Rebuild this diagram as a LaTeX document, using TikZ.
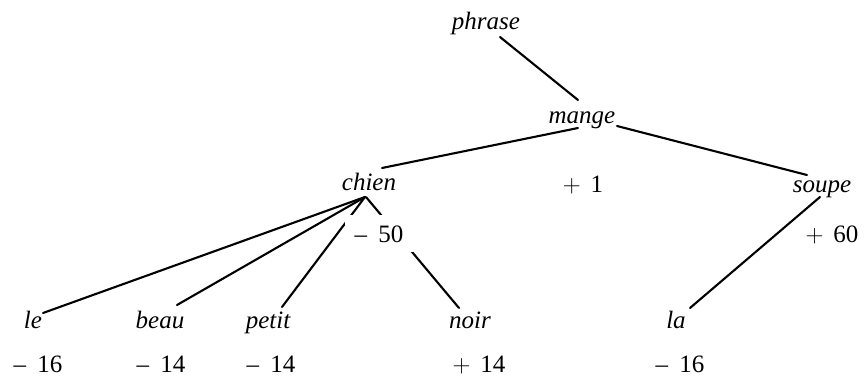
\documentclass[tikz,border=0pt]{standalone}
\usepackage{fontspec}
\setmainfont{Liberation Serif}
\begin{document}
\begin{tikzpicture}[x=1pt,y=-1pt,
  word/.style={anchor=base,inner sep=0pt,font=\fontsize{25}{29}\selectfont\itshape},
  score/.style={anchor=base,inner sep=0pt,font=\fontsize{25}{29}\selectfont},
  edge/.style={line width=2.1pt,line cap=round}]
\useasboundingbox (0,0) rectangle (868,383);

% words of the dependency tree
\node[word] (phrase) at (486,29)  {phrase};
\node[word] (mange)  at (582,123) {mange};
\node[word] (chien)  at (369,190) {chien};
\node[word] (soupe)  at (822,192) {soupe};
\node[word] (le)     at (33,328)  {le};
\node[word] (beau)   at (160,328) {beau};
\node[word] (petit)  at (268,328) {petit};
\node[word] (noir)   at (470,328) {noir};
\node[word] (la)     at (676,328) {la};

% branches
\draw[edge] ([xshift=14pt,yshift=-8pt]phrase.base) -- ([xshift=-4pt,yshift=23pt]mange.base);
\draw[edge] ([xshift=-4pt,yshift=-5pt]mange.base) -- ([xshift=13pt,yshift=22pt]chien.base);
\draw[edge] ([xshift=35pt,yshift=-3pt]mange.base) -- ([xshift=-15pt,yshift=17pt]soupe.base);
\draw[edge] ([xshift=-4pt,yshift=-7pt]chien.base) -- ([xshift=10pt,yshift=15pt]le.base);
\draw[edge] ([xshift=-4pt,yshift=-7pt]chien.base) -- ([xshift=17pt,yshift=23pt]beau.base);
\draw[edge] ([xshift=-4pt,yshift=-7pt]chien.base) -- ([xshift=14pt,yshift=21pt]petit.base);
\draw[edge] ([xshift=-3pt,yshift=-7pt]chien.base) -- ([xshift=-11pt,yshift=20pt]noir.base);
\draw[edge] ([xshift=-2pt,yshift=-5pt]soupe.base) -- ([xshift=14pt,yshift=20pt]la.base);

% scores
\node[score] (s1)   at (583,192) {$+$\hspace{0.4em}1};
\node[score,fill=white,inner sep=10pt] (s50) at (379,242) {–\hspace{0.45em}50};
\node[score] (s60)  at (832,242) {$+$\hspace{0.4em}60};
\node[score] (sle)  at (38,372)  {–\hspace{0.45em}16};
\node[score] (sbeau) at (161,372) {–\hspace{0.45em}14};
\node[score] (spetit) at (271,372) {–\hspace{0.45em}14};
\node[score] (snoir) at (479,372) {$+$\hspace{0.4em}14};
\node[score] (sla)  at (680,372) {–\hspace{0.45em}16};
\end{tikzpicture}
\end{document}
